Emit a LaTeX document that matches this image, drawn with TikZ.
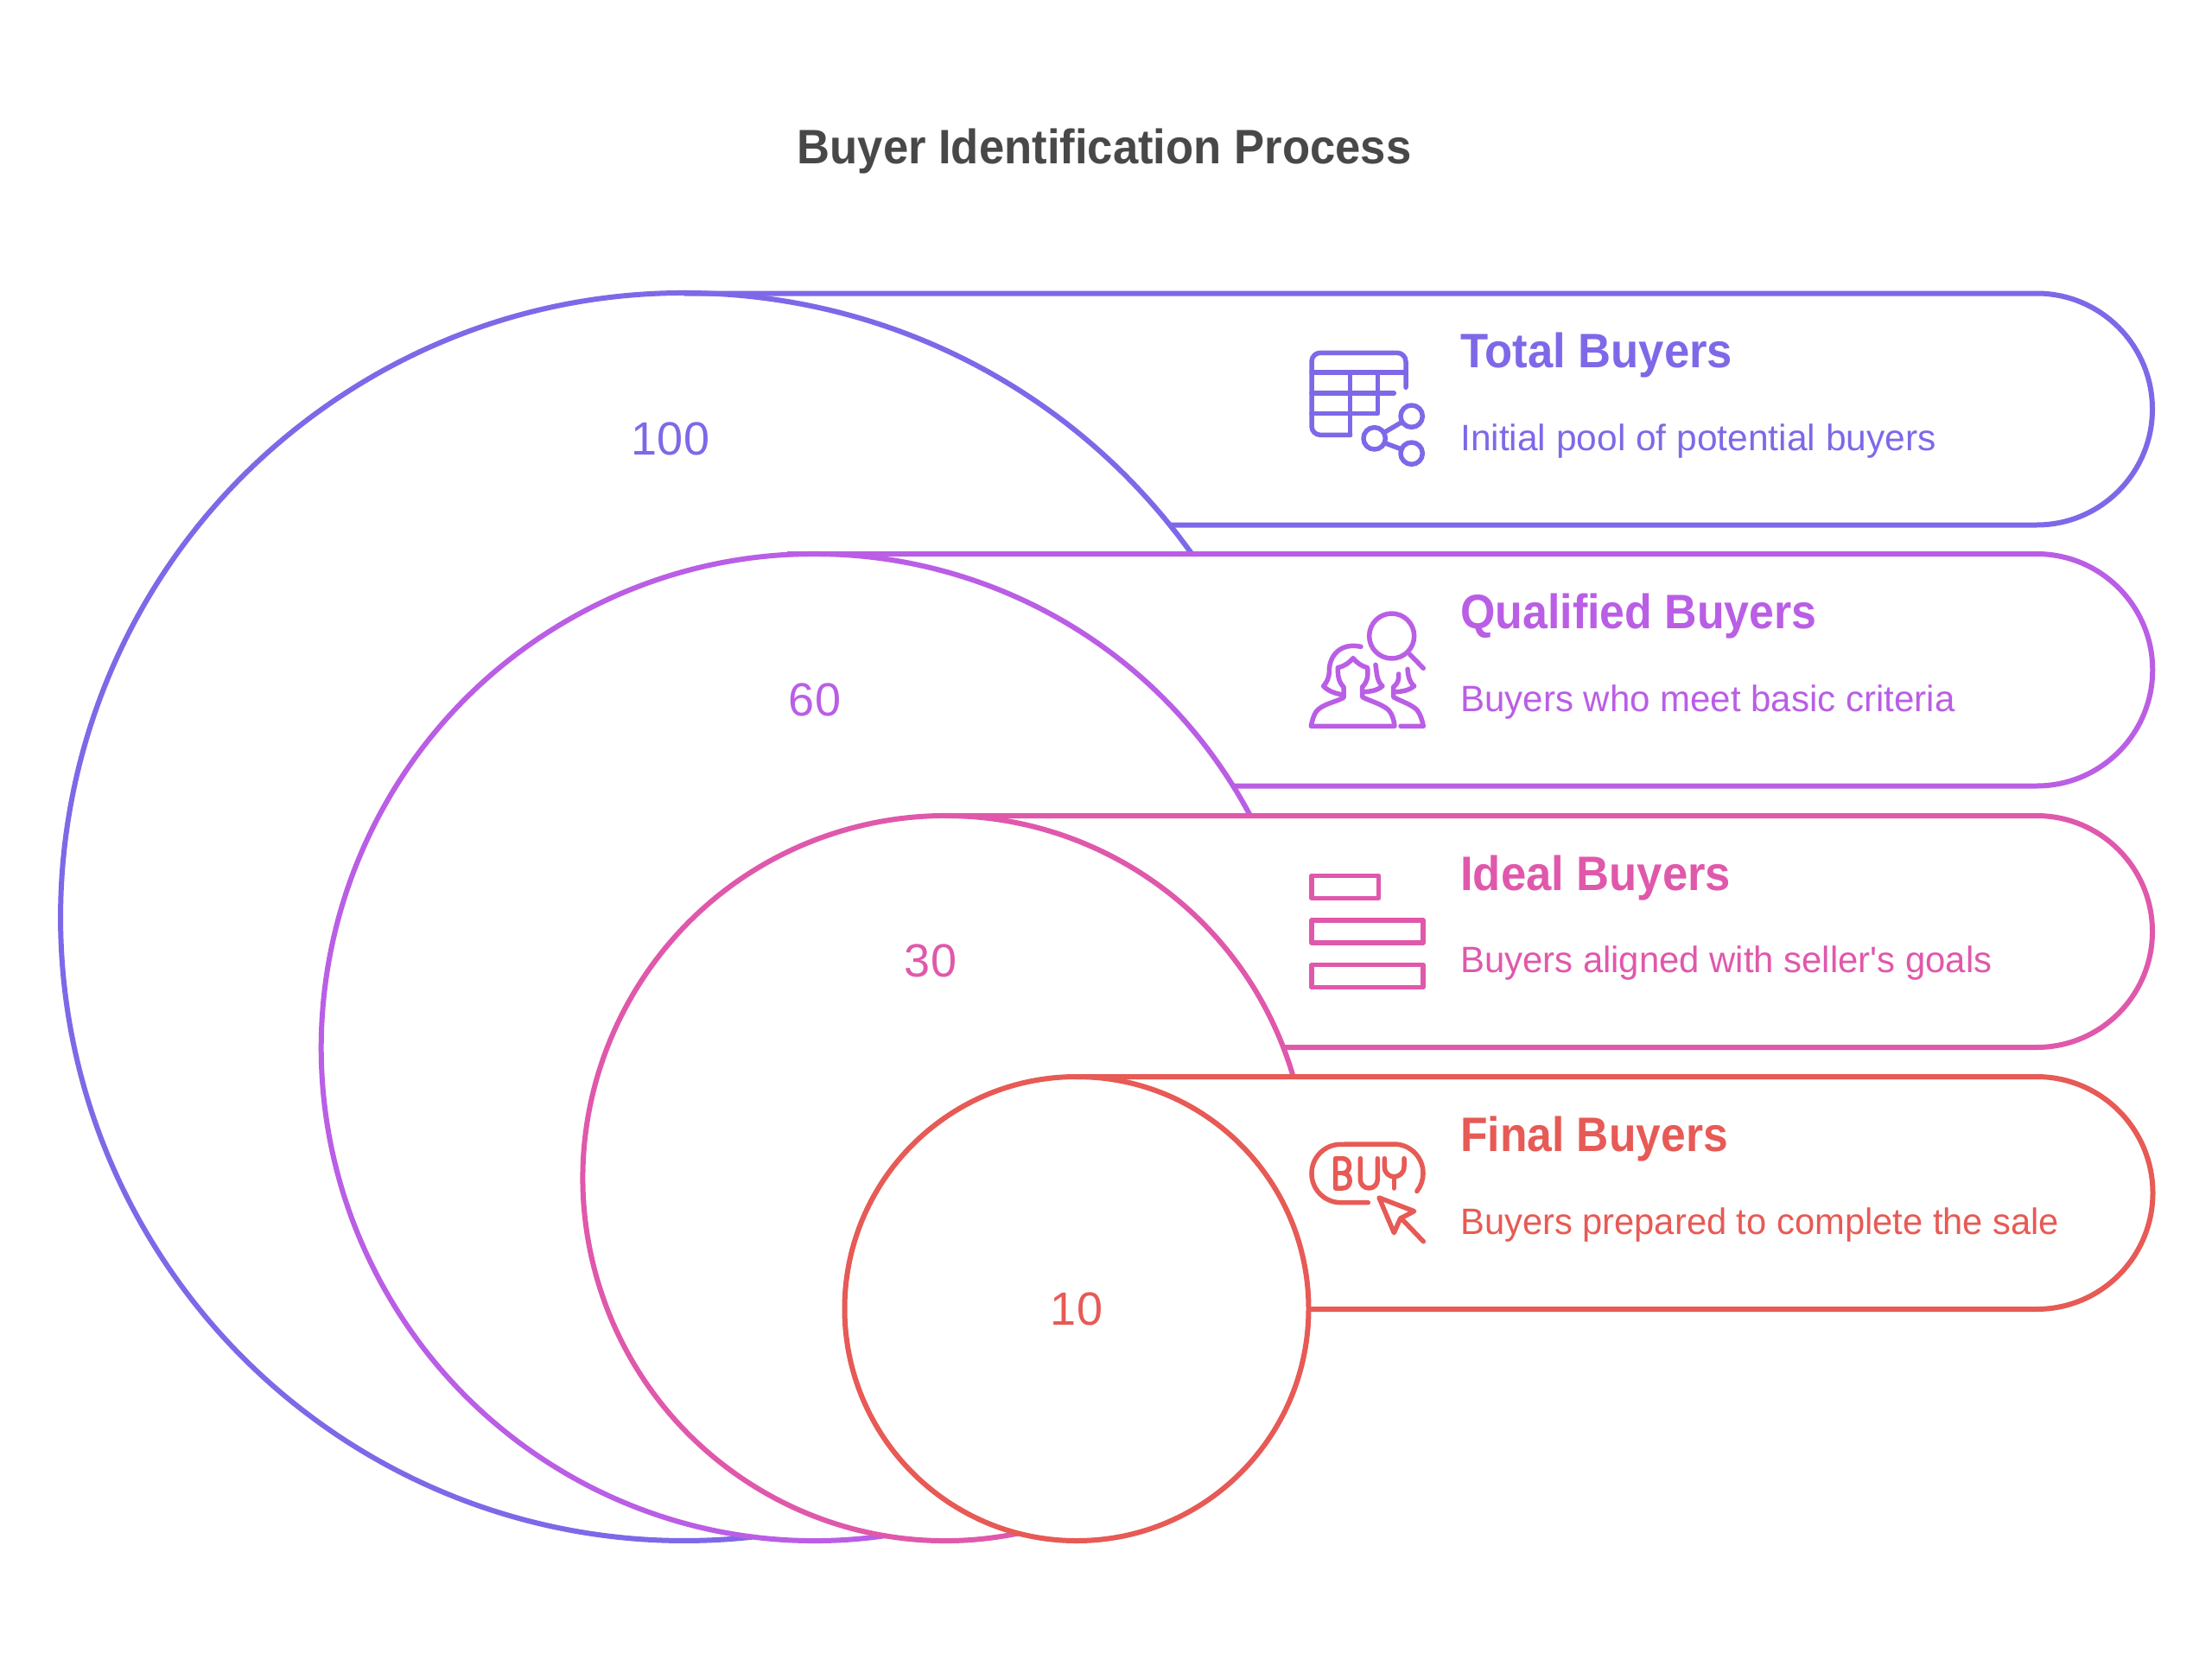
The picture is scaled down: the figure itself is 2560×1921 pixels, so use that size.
\documentclass[tikz,border=0pt]{standalone}
\usepackage{fontspec}
\setmainfont{Liberation Sans}
\newfontfamily\narrowf[FakeStretch=0.94]{Liberation Sans}
\newfontfamily\plainf{Liberation Sans}
\definecolor{cA}{HTML}{7F68E8}
\definecolor{cB}{HTML}{BA5EE5}
\definecolor{cC}{HTML}{E058AB}
\definecolor{cD}{HTML}{E75A55}
\definecolor{cT}{HTML}{484848}
\tikzset{
  outl/.style={line width=6pt},
  ico/.style={line width=5.5pt,line cap=round,line join=round},
  head/.style={anchor=base west,inner sep=0pt,font=\narrowf\fontsize{56}{64}\selectfont\bfseries},
  body/.style={anchor=base west,inner sep=0pt,font=\plainf\fontsize{42.5}{50}\selectfont},
  num/.style={anchor=base,inner sep=0pt,font=\fontsize{54}{62}\selectfont},
  squeeze/.style={xscale=#1,transform shape},
  zoomed/.style={x=0.3333pt,y=-0.3333pt}
}
\begin{document}
\begin{tikzpicture}[x=1pt,y=-1pt]
\useasboundingbox (0,0) rectangle (2560,1921);
\fill[white] (0,0) rectangle (2560,1921);
\node[anchor=base,inner sep=0pt,text=cT,font=\narrowf\fontsize{56}{64}\selectfont\bfseries] (title) at (1278,190) {Buyer Identification Process};
% shapes
\draw[outl,cA] (1378.6,640) arc[start angle=35.67,end angle=276.28,radius=722pt];
\draw[outl,cA] (792,339.5) -- (2357,339.5) arc[start angle=90,end angle=-90,radius=134pt] -- (1353.8,607.5);
\draw[outl,cB] (1447,944) arc[start angle=28,end angle=278.26,radius=571pt];
\draw[outl,cB] (911,641) -- (2357,641) arc[start angle=90,end angle=-90,radius=134.25pt] -- (1427,909.5);
\draw[outl,cC] (1496.7,1246) arc[start angle=16.27,end angle=281.55,radius=419.5pt];
\draw[outl,cC] (1094,944) -- (2357,944) arc[start angle=90,end angle=-90,radius=134pt] -- (1485.4,1212);
\draw[outl,cD] (1246,1514.5) circle[radius=268.5pt];
\draw[outl,cD] (1246,1246) -- (2357,1246) arc[start angle=90,end angle=-90,radius=134.5pt] -- (1514.5,1515);
% numbers
\node[num,text=cA] (n1) at (776,526) {100};
\node[num,text=cB] (n2) at (943,828) {60};
\node[num,text=cC] (n3) at (1077,1130) {30};
\node[num,text=cD] (n4) at (1246,1533) {10};
% texts
\node[head,text=cA] (h1) at (1690,425) {Total Buyers};
\node[body,text=cA] (b1) at (1690,521) {Initial pool of potential buyers};
\node[head,squeeze=0.986,text=cB] (h2) at (1690,727) {Qualified Buyers};
\node[body,squeeze=0.989,text=cB] (b2) at (1690,823) {Buyers who meet basic criteria};
\node[head,text=cC] (h3) at (1690,1030) {Ideal Buyers};
\node[body,squeeze=0.985,text=cC] (b3) at (1690,1125.5) {Buyers aligned with seller's goals};
\node[head,squeeze=0.98,text=cD] (h4) at (1690,1332) {Final Buyers};
\node[body,squeeze=0.981,text=cD] (b4) at (1690,1428) {Buyers prepared to complete the sale};
% icon 1
\begin{scope}[shift={(1480,370)}]
\begin{scope}[zoomed,ico,cA]
\draw[rounded corners=10pt] (441,235) -- (441,115) -- (114,115) -- (114,400) -- (248,400);
\draw (248,400) -- (248,183);
\draw (114,183) -- (441,183);
\draw (114,255) -- (400,255);
\draw (114,325) -- (344,325) -- (344,183);
\draw (332,412) circle[radius=12.7pt];
\draw (461,335) circle[radius=12.7pt];
\draw (461,464) circle[radius=12.7pt];
\draw (365,392) -- (428,355);
\draw (368,428) -- (427,450);
\end{scope}
\end{scope}
% icon 2
\begin{scope}[shift={(1480,680)}]
\begin{scope}[zoomed,ico,cB]
\draw (392,168) circle[radius=26pt];
\draw (455,232) -- (502,280);
\draw (285,205) .. controls (215,190) and (175,235) .. (175,290) .. controls (175,315) and (165,330) .. (155,342) .. controls (170,358) and (195,368) .. (222,372);
\draw (258,245) .. controls (245,260) and (230,272) .. (205,278) .. controls (205,300) and (205,325) .. (225,345) -- (225,382) .. controls (195,398) and (150,405) .. (130,430) .. controls (120,445) and (115,465) .. (112,481) -- (402,481) .. controls (400,460) and (392,432) .. (375,420) .. controls (350,402) and (320,395) .. (290,380) -- (290,345) .. controls (310,325) and (310,300) .. (308,278) .. controls (285,272) and (270,260) .. (258,245) -- cycle;
\draw (336,268) .. controls (340,295) and (340,325) .. (360,342) .. controls (345,355) and (320,362) .. (292,362);
\draw (447,283) .. controls (450,310) and (452,325) .. (470,342) .. controls (455,355) and (430,362) .. (400,362);
\draw (416,300) .. controls (418,320) and (412,335) .. (398,345) -- (398,380) .. controls (425,395) and (460,405) .. (480,425) .. controls (492,440) and (498,462) .. (502,481) -- (423,481);
\end{scope}
\end{scope}
% icon 3
\begin{scope}[shift={(1480,980)}]
\begin{scope}[zoomed,ico,cC]
\draw (114,100) rectangle (347,178);
\draw (114,255) rectangle (501,333);
\draw (114,410) rectangle (501,488);
\end{scope}
\end{scope}
% icon 4
\begin{scope}[shift={(1480,1290)}]
\begin{scope}[zoomed,ico,cD]
\draw (310,305) -- (215,305) arc[start angle=270,end angle=90,radius=33.7pt] -- (400,102) arc[start angle=90,end angle=-38,radius=33.7pt];
\draw (197,152) -- (222,152) .. controls (252,152) and (252,203) .. (222,203) .. controls (255,203) and (255,255) .. (222,255) -- (197,255) -- cycle;
\draw (197,203) -- (222,203);
\draw (283,152) -- (283,225) arc[start angle=180,end angle=360,radius=10pt] -- (343,152);
\draw (367,152) -- (367,180) .. controls (367,205) and (385,215) .. (400,215) .. controls (415,215) and (435,205) .. (435,180) -- (435,152);
\draw (400,215) -- (400,255);
\draw (348,288) -- (470,335) -- (422,360) -- (400,410) -- cycle;
\draw (430,365) -- (502,440);
\end{scope}
\end{scope}
\end{tikzpicture}
\end{document}
